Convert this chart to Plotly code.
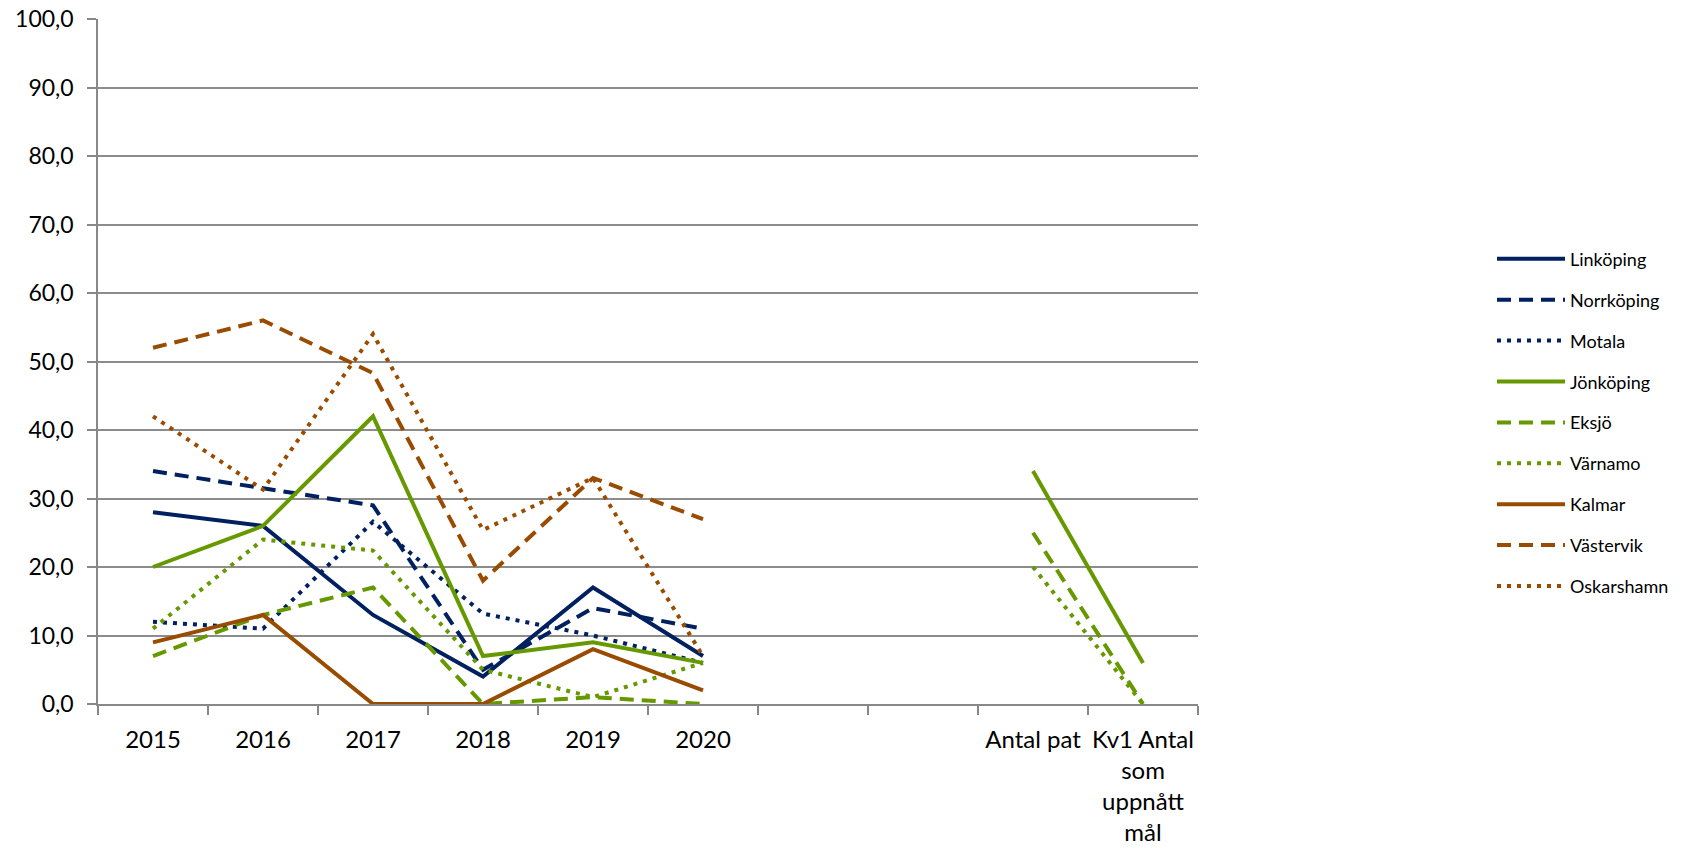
import plotly.graph_objects as go

categories = ["2015", "2016", "2017", "2018", "2019", "2020", " ", "  ",
              "Antal pat", "Kv1 Antal<br>som<br>uppnått<br>mål"]

linkoping = [28, 26, 13, 4, 17, 7, None, None, None, None]
norrkoping = [34, 31.5, 29, 5, 14, 11, None, None, None, None]
motala = [12, 11, 26.6, 13.2, 10, 6, None, None, None, None]
jonkoping = [20, 26, 42, 7, 9, 6, None, None, 34, 6]
eksjo = [7, 13, 17, 0, 1, 0, None, None, 25, 0]
varnamo = [11, 24, 22.4, 5, 1, 6, None, None, 20, 0]
kalmar = [9, 13, 0, 0, 8, 2, None, None, None, None]
vastervik = [52, 56, 48.3, 18, 33, 27, None, None, None, None]
oskarshamn = [42, 31.3, 54, 25.4, 33, 7, None, None, None, None]

NAVY = "#002060"
GREEN = "#669900"
BROWN = "#994C00"
DASH = "14px,8px"
DOT = "4px,6px"

series = [
    ("Linköping", linkoping, NAVY, "solid"),
    ("Norrköping", norrkoping, NAVY, DASH),
    ("Motala", motala, NAVY, DOT),
    ("Jönköping", jonkoping, GREEN, "solid"),
    ("Eksjö", eksjo, GREEN, DASH),
    ("Värnamo", varnamo, GREEN, DOT),
    ("Kalmar", kalmar, BROWN, "solid"),
    ("Västervik", vastervik, BROWN, DASH),
    ("Oskarshamn", oskarshamn, BROWN, DOT),
]

fig = go.Figure()
for i, (name, vals, col, dash) in enumerate(series):
    fig.add_trace(go.Scatter(
        x=categories, y=vals, name=name, mode="lines",
        line=dict(color=col, width=4, dash=dash),
        connectgaps=False, legendgroup=f"g{i}",
    ))

FONT = "Lato"
W, H = 1690, 848
fig.update_layout(
    width=W, height=H,
    paper_bgcolor="white", plot_bgcolor="white",
    margin=dict(l=98, r=492, t=19, b=144, autoexpand=False),
    separators=", ",
    font=dict(family=FONT, color="#000000"),
    showlegend=True,
    legend=dict(
        xref="container", yref="container",
        x=1492 / W, y=1 - 240.6 / H, xanchor="left", yanchor="top",
        font=dict(family=FONT, size=18, color="#000000"),
        tracegroupgap=14.5, itemwidth=68, bgcolor="rgba(0,0,0,0)",
    ),
    xaxis=dict(
        type="category", categoryorder="array", categoryarray=categories,
        range=[-0.5, 9.5], automargin=False, tickangle=0,
        showgrid=False, showline=True, linecolor="#888888", linewidth=1.5,
        ticks="outside", ticklen=9, tickcolor="#888888", tickwidth=1.5,
        tickson="boundaries", ticklabelstandoff=13,
        tickfont=dict(family=FONT, size=24, color="#000000"),
        zeroline=False, fixedrange=True,
    ),
    yaxis=dict(
        range=[0, 100], dtick=10, tickformat=".1f", automargin=False,
        showgrid=True, gridcolor="#8c8c8c", gridwidth=1.5,
        showline=True, linecolor="#888888", linewidth=1.5,
        ticks="outside", ticklen=9, tickcolor="#888888", tickwidth=1.5,
        ticklabelstandoff=9, ticklabeloverflow="allow",
        tickfont=dict(family=FONT, size=23, color="#000000"),
        zeroline=False, fixedrange=True,
    ),
)

fig.write_html("out.html",
               config={"displayModeBar": False},
               post_script="document.body.style.margin='0px';")
